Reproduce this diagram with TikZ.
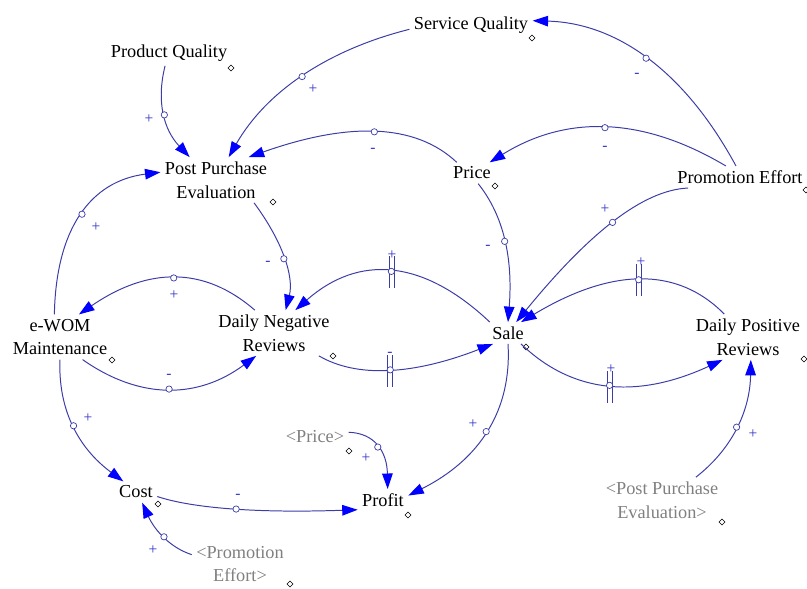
\documentclass[tikz,border=0pt]{standalone}
\usepackage{fontspec}
\setmainfont{Liberation Serif}
\usetikzlibrary{arrows.meta, shapes.geometric}
\definecolor{linkcol}{RGB}{60,60,168}
\definecolor{tipcol}{RGB}{0,0,255}
\definecolor{signcol}{RGB}{50,50,200}
\definecolor{ghost}{RGB}{128,128,128}

\tikzset{
  var/.style={font=\fontsize{13}{17}\selectfont, align=center, inner sep=3pt},
  ghostvar/.style={var, text=ghost},
  link/.style={linkcol, line width=0.7pt, -{Triangle[length=11pt,width=7.5pt,color=tipcol]}},
  midring/.style={circle, draw=linkcol, fill=white, line width=0.5pt, inner sep=0pt, minimum size=4.5pt},
  varmark/.style={diamond, draw=black, fill=white, line width=0.4pt, inner sep=0pt, minimum size=4.5pt},
  polarity/.style={text=signcol, font=\fontsize{11}{11}\selectfont, inner sep=0pt}
}

\begin{document}
\begin{tikzpicture}[x=0.025cm, y=-0.025cm]
    \useasboundingbox (0,0) rectangle (807,588);

    % variables
    \node[var] (pq)     at (169,53)  {Product Quality};
    \node[var] (sq)     at (471,25)  {Service Quality};
    \node[var] (ppe)    at (216,180) {Post Purchase\\Evaluation};
    \node[var] (price)  at (472,173) {Price};
    \node[var] (pe)     at (740,177) {Promotion Effort};
    \node[var] (ewom)   at (60,337)  {e-WOM\\Maintenance};
    \node[var] (dnr)    at (274,333) {Daily Negative\\Reviews};
    \node[var] (sale)   at (508,333) {Sale};
    \node[var] (dpr)    at (748,337) {Daily Positive\\Reviews};
    \node[var] (cost)   at (136,492) {Cost};
    \node[var] (profit) at (383,500) {Profit};
    % shadow variables
    \node[ghostvar] (price2) at (315,437) {<Price>};
    \node[ghostvar] (ppe2)   at (662,500) {<Post Purchase\\Evaluation>};
    \node[ghostvar] (pe2)    at (240,564) {<Promotion\\Effort>};

    % little diamonds beside the names
    \foreach \n/\x/\y in {pq/231/68, sq/532/38, ppe/273/202, price/495/186, pe/806/190,
                          ewom/112/360, dnr/333/356, sale/526/347, dpr/804/359, cost/158/504,
                          profit/408/515, price2/349/451, ppe2/722/522, pe2/290/584}
        \node[varmark] (m-\n) at (\x,\y) {};

    % delay marks
    \foreach \x/\y in {392/271, 390/370, 639/279, 610/386}
        \draw[linkcol, line width=0.6pt] (\x-2.5,\y-15) -- (\x-2.5,\y+17)
                                         (\x+2.5,\y-15) -- (\x+2.5,\y+17);

    % causal links
    \draw[link] (pq.253)    .. controls (156,102) and (164,130) .. (ppe.139)    node[midring, pos=.5] (c1) {};
    \draw[link] (sq.184)    .. controls (327,50)  and (266,92)  .. (ppe.61)     node[midring, pos=.5] (c2) {};
    \draw[link] (price.145) .. controls (415,123) and (348,122) .. (ppe.35)     node[midring, pos=.5] (c3) {};
    \draw[link] (pe.110)    .. controls (684,70)  and (616,23)  .. (sq.4)       node[midring, pos=.5] (c4) {};
    \draw[link] (pe.142)    .. controls (642,116) and (566,115) .. (price.31)   node[midring, pos=.5] (c5) {};
    \draw[link] (pe.192)    .. controls (643,190) and (589,233) .. (sale.53)    node[midring, pos=.5] (c6) {};
    \draw[link] (price.300) .. controls (504,216) and (513,259) .. (sale.90)    node[midring, pos=.5] (c7) {};
    \draw[link] (ppe.329)   .. controls (283,242) and (294,277) .. (dnr.63)     node[midring, pos=.5] (c8) {};
    \draw[link] (ewom.104)  .. controls (56,228)  and (91,181)  .. (ppe.172)    node[midring, pos=.5] (c9) {};
    \draw[link] (dnr.130)   .. controls (204,266) and (148,267) .. (ewom.50)    node[midring, pos=.5] (c10) {};
    \draw[link] (ewom.315)  .. controls (140,400) and (198,399) .. (dnr.232)    node[midring, pos=.5] (c11) {};
    \draw[link] (sale.149)  .. controls (423,259) and (359,254) .. (dnr.47)     node[midring, pos=.5] (c12) {};
    \draw[link] (dnr.333)   .. controls (357,378) and (413,375) .. (sale.216)   node[midring, pos=.5] (c13) {};
    \draw[link] (sale.320)  .. controls (573,394) and (638,399) .. (dpr.222)    node[midring, pos=.5] (c14) {};
    \draw[link] (dpr.136)   .. controls (677,266) and (611,268) .. (sale.40)    node[midring, pos=.5] (c15) {};
    \draw[link] (sale.270)  .. controls (512,411) and (479,460) .. (profit.10)  node[midring, pos=.5] (c16) {};
    \draw[link] (price2.8)  .. controls (375,433) and (387,452) .. (profit.67)  node[midring, pos=.5] (c17) {};
    \draw[link] (ewom.270)  .. controls (58,408)  and (77,447)  .. (cost.140)   node[midring, pos=.5] (c18) {};
    \draw[link] (cost.348)  .. controls (195,509) and (263,513) .. (profit.201) node[midring, pos=.5] (c19) {};
    \draw[link] (pe2.169)   .. controls (171,548) and (155,531) .. (cost.300)   node[midring, pos=.5] (c20) {};
    \draw[link] (ppe2.34)   .. controls (732,449) and (750,411) .. (dpr.277)    node[midring, pos=.5] (c21) {};

    % polarities
    \node[polarity] (s1)  at (149,119) {+};
    \node[polarity] (s2)  at (313,89)  {+};
    \node[polarity] (s3)  at (373,150) {-};
    \node[polarity] (s4)  at (637,75)  {-};
    \node[polarity] (s5)  at (605,148) {-};
    \node[polarity] (s6)  at (605,209) {+};
    \node[polarity] (s7)  at (488,247) {-};
    \node[polarity] (s8)  at (268,263) {-};
    \node[polarity] (s9)  at (96,227)  {+};
    \node[polarity] (s10) at (174,295) {+};
    \node[polarity] (s11) at (169,376) {-};
    \node[polarity] (s12) at (392,255) {+};
    \node[polarity] (s13) at (390,354) {-};
    \node[polarity] (s14) at (611,369) {+};
    \node[polarity] (s15) at (641,262) {+};
    \node[polarity] (s16) at (473,424) {+};
    \node[polarity] (s17) at (366,458) {+};
    \node[polarity] (s18) at (88,418)  {+};
    \node[polarity] (s19) at (238,496) {-};
    \node[polarity] (s20) at (153,550) {+};
    \node[polarity] (s21) at (753,434) {+};
\end{tikzpicture}
\end{document}
